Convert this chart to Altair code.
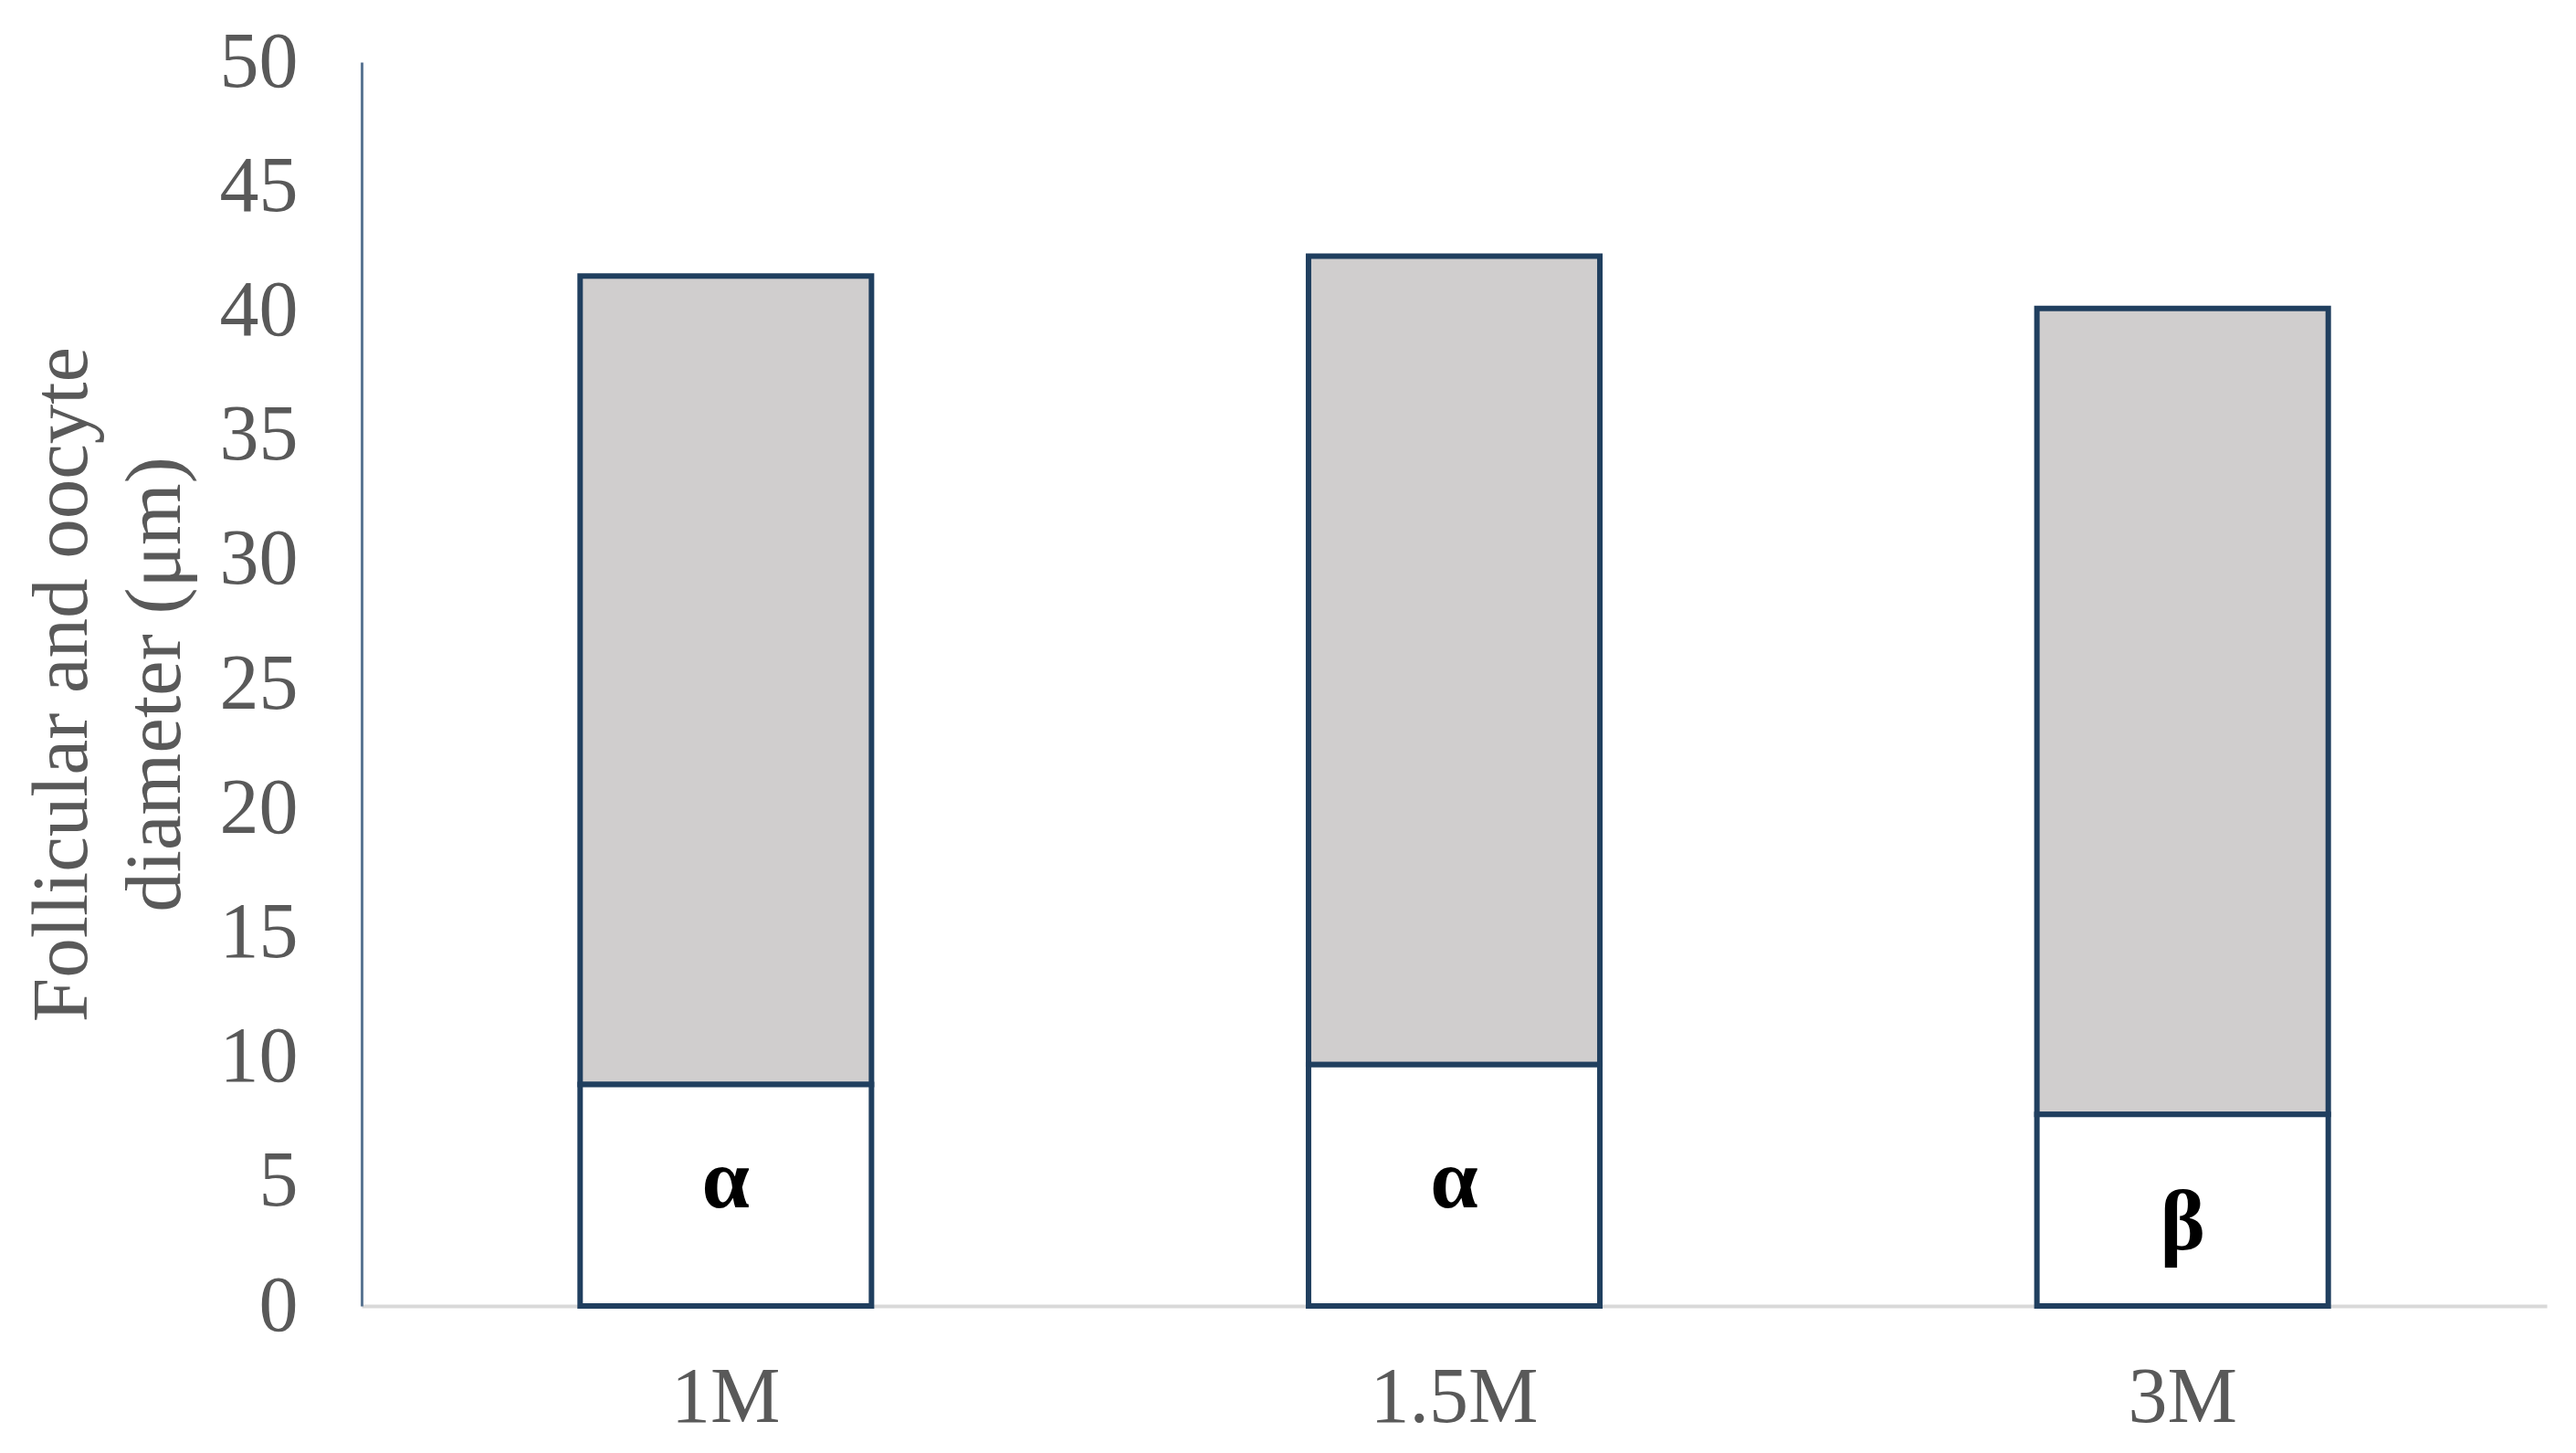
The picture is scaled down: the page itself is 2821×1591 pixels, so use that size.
import altair as alt
import pandas as pd

groups = ["1M", "1.5M", "3M"]
oocyte = [8.9, 9.7, 7.7]
follicle = [41.4, 42.2, 40.1]
letters = ["α", "α", "β"]
letter_y = [5.0, 5.0, 3.3]
y_ticks = [0, 5, 10, 15, 20, 25, 30, 35, 40, 45, 50]
y_title = ["Follicular and oocyte", "diameter (μm)"]

df = pd.DataFrame({
    "group": groups,
    "oocyte": oocyte,
    "follicle": follicle,
    "letter": letters,
    "ly": letter_y,
})

FONT = "Liberation Serif"
GREY_TXT = "#595959"
EDGE = "#203F5F"

W, H = 2393, 1362

x_enc = alt.X(
    "group:N",
    sort=groups,
    scale=alt.Scale(paddingInner=0.6, paddingOuter=0.3),
    axis=alt.Axis(
        title="",
        labelAngle=0,
        labelFont=FONT,
        labelFontSize=86,
        labelColor=GREY_TXT,
        labelPadding=58,
        labelLimit=1000,
        ticks=False,
        domainColor="#D9D9D9",
        domainWidth=4,
        grid=False,
    ),
)

y_axis = alt.Axis(
    title=y_title,
    values=y_ticks,
    labelFont=FONT,
    labelFontSize=86,
    labelColor=GREY_TXT,
    labelPadding=70,
    labelLimit=1000,
    ticks=False,
    grid=False,
    domainColor="#5B7693",
    domainWidth=3,
    titleFont=FONT,
    titleFontSize=87,
    titleFontWeight="normal",
    titleColor=GREY_TXT,
    titleAngle=270,
    titleAlign="center",
    titleBaseline="alphabetic",
    titleLineHeight=102,
    titleX=-302,
    titleY=H / 2,
    titleLimit=2000,
)
y_scale = alt.Scale(domain=[0, 50], nice=False)

base = alt.Chart(df)

grey = base.mark_bar(fill="#D0CECE", stroke=EDGE, strokeWidth=6).encode(
    x=x_enc,
    y=alt.Y("follicle:Q", scale=y_scale, axis=y_axis),
    y2="oocyte:Q",
)

white = base.mark_bar(fill="#FFFFFF", stroke=EDGE, strokeWidth=6).encode(
    x=x_enc,
    y=alt.Y("oocyte:Q", scale=y_scale, axis=y_axis),
)

text = base.mark_text(
    font=FONT, fontWeight="bold", fontSize=94, color="#000000", baseline="middle", align="center"
).encode(
    x=x_enc,
    y=alt.Y("ly:Q", scale=y_scale, axis=y_axis),
    text="letter:N",
)

chart = (
    alt.layer(grey, white, text)
    .properties(
        width=W,
        height=H,
        autosize=alt.AutoSizeParams(type="none"),
        padding={"left": 388, "top": 60, "right": 20, "bottom": 160},
        background="#FFFFFF",
    )
    .configure_view(strokeWidth=0)
)

chart.save("out.html", embed_options={"renderer": "svg", "actions": False})
